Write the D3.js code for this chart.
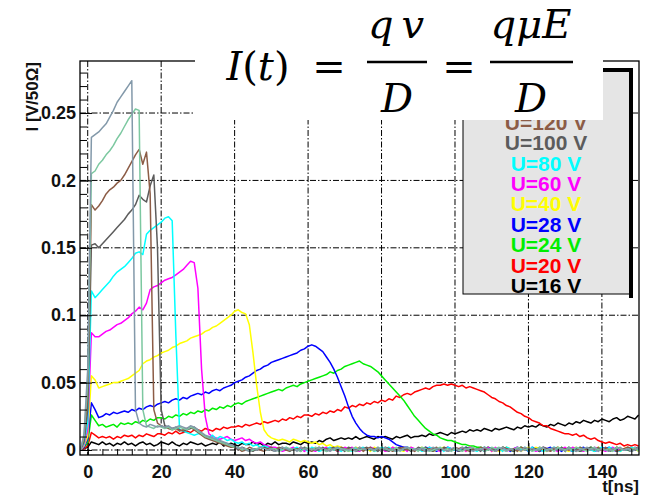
<!DOCTYPE html>
<html>
<head>
<meta charset="utf-8">
<script src="https://cdn.jsdelivr.net/npm/d3@7"></script>
<style>
  body { margin: 0; background: #fff; }
  svg text { font-family: "Liberation Sans", Arial, sans-serif; }
</style>
</head>
<body>
<svg id="chart" width="646" height="499"></svg>
<script>
// pulse samples, one per ns starting at t = -2 ns, in units of 1e-3 V/50Ohm
var tStart = -2;

var u16 = [0,1,2,
  6,5,4,6,4,5,3,5,4,6,
  4,5,3,5,6,4,5,3,4,6,
  5,4,6,4,3,5,4,6,5,4,
  5,3,4,5,4,6,3,4,5,4,
  3,5,4,4,6,4,5,3,5,4,
  6,4,5,5,4,6,5,4,6,5,
  6,5,7,6,8,9,7,8,9,8,
  9,8,10,8,9,10,9,8,10,9,
  10,9,8,10,9,10,11,9,10,10,
  11,10,12,11,12,13,12,11,13,12,
  13,14,13,15,14,15,14,16,15,14,
  16,15,16,17,16,15,17,16,18,17,
  18,17,19,18,17,19,18,20,19,18,
  20,19,21,20,22,21,20,22,21,23,
  22,21,23,24,22,23,25,24,23,26];

var u20 = [0,1,3,
  13,11,9,10,9,10,8,10,9,11,
  10,11,9,11,10,12,11,10,12,12,
  11,13,12,14,12,13,14,13,15,15,
  14,16,15,14,16,15,17,16,17,17,
  18,17,19,18,19,20,19,21,20,21,
  22,21,23,22,24,23,25,24,26,26,
  25,27,26,28,27,29,28,30,29,32,
  31,33,32,34,33,35,34,36,35,37,
  36,38,37,40,39,41,42,41,43,44,
  45,46,45,47,48,48,49,48,49,48,
  47,48,46,47,46,45,44,43,41,39,
  38,36,35,33,32,30,28,27,25,24,
  22,21,20,18,18,16,15,14,13,12,
  12,11,12,10,11,9,8,9,7,6,
  5,6,5,4,5,3,4,3,4,3];

var u24 = [0,2,5,
  26,22,18,19,17,18,19,17,20,19,
  20,19,21,20,22,21,23,22,24,24,
  23,25,24,26,25,27,26,28,27,29,
  28,30,29,31,30,32,31,33,32,34,
  35,34,36,37,38,39,40,41,42,43,
  44,45,44,46,47,48,47,49,50,51,
  52,53,54,55,56,58,57,59,60,62,
  63,64,65,66,64,63,62,60,58,55,
  52,49,46,43,40,37,33,29,25,22,
  19,16,14,12,11,9,8,7,7,6,
  5,4,4,3,3,2,2,1,2,1,
  1,0,2,1,0,-1,1,2,0,1,
  0,1,-1,2,1,0,1,0,2,-1,
  2,0,1,-1,0,1,2,1,0,1,
  1,-1,0,2,1,1,0,-1,1,2];

var u28 = [0,2,8,
  35,30,24,25,27,26,28,27,28,29,
  28,30,29,31,30,32,33,32,34,35,
  36,35,37,38,37,39,38,40,41,42,
  41,43,42,44,45,44,46,47,48,50,
  51,52,54,55,57,59,60,62,63,65,
  66,67,68,69,70,71,72,74,75,77,
  78,77,75,73,69,65,60,54,47,40,
  32,25,20,16,13,11,10,10,9,10,
  9,8,6,4,3,2,2,1,1,0,
  0,2,1,0,-1,1,0,2,1,0,
  -1,1,2,0,1,0,1,-1,2,1,
  1,0,0,2,-1,1,2,0,1,-1,
  2,1,-1,0,1,2,0,1,-1,1,
  0,-1,1,1,2,0,1,-1,0,2,
  1,2,0,-1,1,0,2,1,0,1];

var u40 = [0,3,10,
  55,52,46,47,48,49,50,50,51,52,
  53,55,57,59,64,66,67,69,70,72,
  73,74,76,77,79,80,81,83,84,85,
  86,88,89,91,92,94,96,98,100,103,
  104,102,101,93,72,48,28,15,11,9,
  8,7,8,7,6,8,7,6,7,6,
  5,6,4,5,3,4,2,3,2,1,
  -1,0,2,1,0,1,-1,2,1,0,
  1,0,2,1,0,-1,1,2,0,1,
  2,0,1,-1,0,1,2,1,0,1,
  0,1,-1,2,1,0,1,0,2,-1,
  1,-1,0,2,1,1,0,-1,1,2,
  0,2,1,0,-1,1,0,2,1,0,
  -1,1,2,0,1,0,1,-1,2,1,
  1,0,0,2,-1,1,2,0,1,-1];

var u60 = [0,4,15,
  87,84,84,86,88,89,91,93,94,96,
  98,101,103,106,104,109,119,121,122,124,
  126,127,128,130,132,134,137,140,139,120,
  60,25,12,10,9,8,9,10,8,7,
  8,9,7,8,6,5,6,4,3,2,
  2,1,-1,0,1,2,0,1,-1,1,
  0,-1,1,1,2,0,1,-1,0,2,
  1,2,0,-1,1,0,2,1,0,1,
  -1,0,2,1,0,1,-1,2,1,0,
  1,0,2,1,0,-1,1,2,0,1,
  0,1,-1,2,1,0,1,0,2,-1,
  2,0,1,-1,0,1,2,1,0,1,
  1,-1,0,2,1,1,0,-1,1,2,
  0,2,1,0,-1,1,0,2,1,0,
  -1,1,2,0,1,0,1,-1,2,1];

var u80 = [0,5,20,
  118,113,116,119,122,125,129,132,134,136,
  139,142,146,147,145,160,163,165,167,169,
  172,173,170,85,15,14,13,12,11,12,
  12,10,9,11,8,10,9,7,8,6,
  5,6,4,5,3,4,2,3,2,1,
  1,0,0,2,-1,1,2,0,1,-1,
  2,1,-1,0,1,2,0,1,-1,1,
  0,-1,1,1,2,0,1,-1,0,2,
  1,2,0,-1,1,0,2,1,0,1,
  -1,0,2,1,0,1,-1,2,1,0,
  1,0,2,1,0,-1,1,2,0,1,
  0,1,-1,2,1,0,1,0,2,-1,
  2,0,1,-1,0,1,2,1,0,1,
  1,-1,0,2,1,1,0,-1,1,2,
  0,2,1,0,-1,1,0,2,1,0];

var u100 = [0,6,30,
  152,153,150,153,156,159,162,165,168,171,
  175,178,182,189,186,184,196,204,150,30,
  18,17,16,17,15,14,15,16,17,15,
  12,10,9,8,7,6,5,4,3,2,
  0,2,1,0,-1,1,0,2,1,0,
  -1,1,2,0,1,0,1,-1,2,1,
  1,0,0,2,-1,1,2,0,1,-1,
  2,1,-1,0,1,2,0,1,-1,1,
  0,-1,1,1,2,0,1,-1,0,2,
  1,2,0,-1,1,0,2,1,0,1,
  -1,0,2,1,0,1,-1,2,1,0,
  1,0,2,1,0,-1,1,2,0,1,
  0,1,-1,2,1,0,1,0,2,-1,
  2,0,1,-1,0,1,2,1,0,1,
  1,-1,0,2,1,1,0,-1,1,2];

var u120 = [0,8,40,
  182,178,181,185,190,193,195,198,200,204,
  209,214,219,223,212,221,190,30,20,18,
  17,16,15,16,14,15,16,17,15,13,
  11,9,8,7,6,5,4,3,2,2,
  1,-1,0,2,1,1,0,-1,1,2,
  0,2,1,0,-1,1,0,2,1,0,
  -1,1,2,0,1,0,1,-1,2,1,
  1,0,0,2,-1,1,2,0,1,-1,
  2,1,-1,0,1,2,0,1,-1,1,
  0,-1,1,1,2,0,1,-1,0,2,
  1,2,0,-1,1,0,2,1,0,1,
  -1,0,2,1,0,1,-1,2,1,0,
  1,0,2,1,0,-1,1,2,0,1,
  0,1,-1,2,1,0,1,0,2,-1,
  2,0,1,-1,0,1,2,1,0,1];

var u140 = [0,10,50,
  205,207,212,215,219,222,226,231,235,240,
  245,249,253,252,30,18,17,16,18,17,
  16,17,15,16,17,16,15,17,16,14,
  12,10,9,8,7,6,5,4,3,2,
  2,0,1,-1,0,1,2,1,0,1,
  1,-1,0,2,1,1,0,-1,1,2,
  0,2,1,0,-1,1,0,2,1,0,
  -1,1,2,0,1,0,1,-1,2,1,
  1,0,0,2,-1,1,2,0,1,-1,
  2,1,-1,0,1,2,0,1,-1,1,
  0,-1,1,1,2,0,1,-1,0,2,
  1,2,0,-1,1,0,2,1,0,1,
  -1,0,2,1,0,1,-1,2,1,0,
  1,0,2,1,0,-1,1,2,0,1,
  0,1,-1,2,1,0,1,0,2,-1];

var u160 = [0,12,60,
  232,234,236,239,242,247,252,258,262,266,
  270,274,30,20,18,17,19,18,17,18,
  17,18,16,17,18,17,16,18,17,15,
  13,11,10,9,8,7,6,5,4,3,
  1,2,0,-1,1,0,2,1,0,1,
  -1,0,2,1,0,1,-1,2,1,0,
  1,0,2,1,0,-1,1,2,0,1,
  0,1,-1,2,1,0,1,0,2,-1,
  2,0,1,-1,0,1,2,1,0,1,
  1,-1,0,2,1,1,0,-1,1,2,
  0,2,1,0,-1,1,0,2,1,0,
  -1,1,2,0,1,0,1,-1,2,1,
  1,0,0,2,-1,1,2,0,1,-1,
  2,1,-1,0,1,2,0,1,-1,1,
  0,-1,1,1,2,0,1,-1,0,2];

var voltages = [16, 20, 24, 28, 40, 60, 80, 100, 120, 140, 160];
var pulses = [u16, u20, u24, u28, u40, u60, u80, u100, u120, u140, u160];
var colors = ["#000000", "#ff0000", "#00ee00", "#0000ff", "#ffff00", "#ff00ff",
              "#00ffff", "#5c5c5c", "#8c5c46", "#7cc8a0", "#8399aa"];
// legend rows that are not hidden behind the pasted formula
var legendShown = 9;

var xTicks = [0, 20, 40, 60, 80, 100, 120, 140];
var yTicks = [0, 0.05, 0.1, 0.15, 0.2, 0.25];

var svg = d3.select("#chart");
var x = d3.scaleLinear().domain([-2.1, 150.1]).range([80, 639]);
var y = d3.scaleLinear().domain([-0.0037, 0.2886]).range([455, 61]);
var ink = "#111";

// grid
svg.append("g").selectAll("line").data(yTicks).join("line")
  .attr("x1", 80).attr("x2", 639)
  .attr("y1", d => y(d)).attr("y2", d => y(d))
  .attr("stroke", "#000").attr("stroke-dasharray", "6,2,1.5,2");
svg.append("g").selectAll("line").data(xTicks).join("line")
  .attr("y1", 61).attr("y2", 455)
  .attr("x1", d => x(d)).attr("x2", d => x(d))
  .attr("stroke", "#000").attr("stroke-dasharray", "6,2,1.5,2");

// curves
svg.append("clipPath").attr("id", "frame")
  .append("rect").attr("x", 80).attr("y", 61).attr("width", 559).attr("height", 394);

var line = d3.line()
  .x((d, i) => x(tStart + i))
  .y(d => y(d / 1000));

svg.append("g").attr("clip-path", "url(#frame)")
  .selectAll("path").data(pulses).join("path")
  .attr("d", line)
  .attr("fill", "none")
  .attr("stroke", (d, i) => colors[i])
  .attr("stroke-width", 1.5)
  .attr("stroke-linejoin", "round");

// axes, ticks inside the frame
svg.append("g").attr("transform", "translate(80,0)")
  .call(d3.axisLeft(y).tickValues(yTicks).tickSize(-12).tickPadding(4)
    .tickFormat(d => d === 0 ? "0" : d3.format("~g")(d)));
svg.append("g").attr("transform", "translate(80,0)")
  .call(d3.axisLeft(y).tickValues(d3.range(0, 0.289, 0.01)).tickSize(-7).tickFormat(""));
svg.append("g").attr("transform", "translate(0,455)")
  .call(d3.axisBottom(x).tickValues(xTicks).tickSize(-12).tickPadding(10));
svg.append("g").attr("transform", "translate(0,455)")
  .call(d3.axisBottom(x).tickValues(d3.range(0, 151, 4)).tickSize(-6).tickFormat(""));

svg.selectAll(".domain").remove();
svg.selectAll(".tick line").attr("stroke", "#000").attr("stroke-width", 1);
svg.selectAll(".tick text")
  .attr("fill", ink).style("font-size", "18px").style("font-weight", "bold")
  .style("font-family", "'Liberation Sans', Arial, sans-serif");

svg.append("rect").attr("x", 80).attr("y", 61).attr("width", 559).attr("height", 394)
  .attr("fill", "none").attr("stroke", "#000").attr("stroke-width", 1.3);

// axis titles
svg.append("text").attr("transform", "translate(38,62) rotate(-90)")
  .attr("text-anchor", "end").attr("fill", ink)
  .style("font-size", "17px").style("font-weight", "bold")
  .text("I [V/50\u03a9]");
svg.append("text").attr("x", 639).attr("y", 492)
  .attr("text-anchor", "end").attr("fill", ink)
  .style("font-size", "17px").style("font-weight", "bold")
  .text("t[ns]");

// legend
svg.append("rect").attr("x", 463).attr("y", 70).attr("width", 168).attr("height", 224)
  .attr("fill", "#e5e5e5").attr("stroke", "#000").attr("stroke-width", 1);
svg.append("path").attr("d", "M603,70H631V298")
  .attr("fill", "none").attr("stroke", "#000").attr("stroke-width", 4);
svg.append("g").selectAll("text").data(voltages.slice(0, legendShown)).join("text")
  .attr("x", 546).attr("y", (d, i) => 293 - 20.4 * i)
  .attr("text-anchor", "middle")
  .attr("fill", (d, i) => colors[i])
  .style("font-size", "21px").style("font-weight", "bold")
  .text(d => "U=" + d + " V");

// formula pasted on top
var f = svg.append("g");
f.append("rect").attr("x", 195).attr("y", 0).attr("width", 408).attr("height", 120).attr("fill", "#fff");
function ftext(cx, cy, parts) {
  var t = f.append("text").attr("x", cx).attr("y", cy).attr("text-anchor", "middle")
    .style("font-size", "40px").style("font-family", "'DejaVu Serif', serif").attr("fill", "#000");
  parts.forEach(p => t.append("tspan").style("font-style", p[1] ? "italic" : "normal").text(p[0]));
}
ftext(258, 80, [["I", 1], ["(", 0], ["t", 1], [")", 0]]);
ftext(329, 80, [["=", 0]]);
ftext(396, 38, [["q", 1], ["\u2009", 0], ["v", 1]]);
ftext(397, 112, [["D", 1]]);
ftext(459, 80, [["=", 0]]);
ftext(531, 38, [["q\u03bcE", 1]]);
ftext(531, 112, [["D", 1]]);
f.append("line").attr("x1", 367).attr("x2", 427).attr("y1", 62).attr("y2", 62).attr("stroke", "#000").attr("stroke-width", 2.5);
f.append("line").attr("x1", 490).attr("x2", 573).attr("y1", 62).attr("y2", 62).attr("stroke", "#000").attr("stroke-width", 2.5);
</script>
</body>
</html>
